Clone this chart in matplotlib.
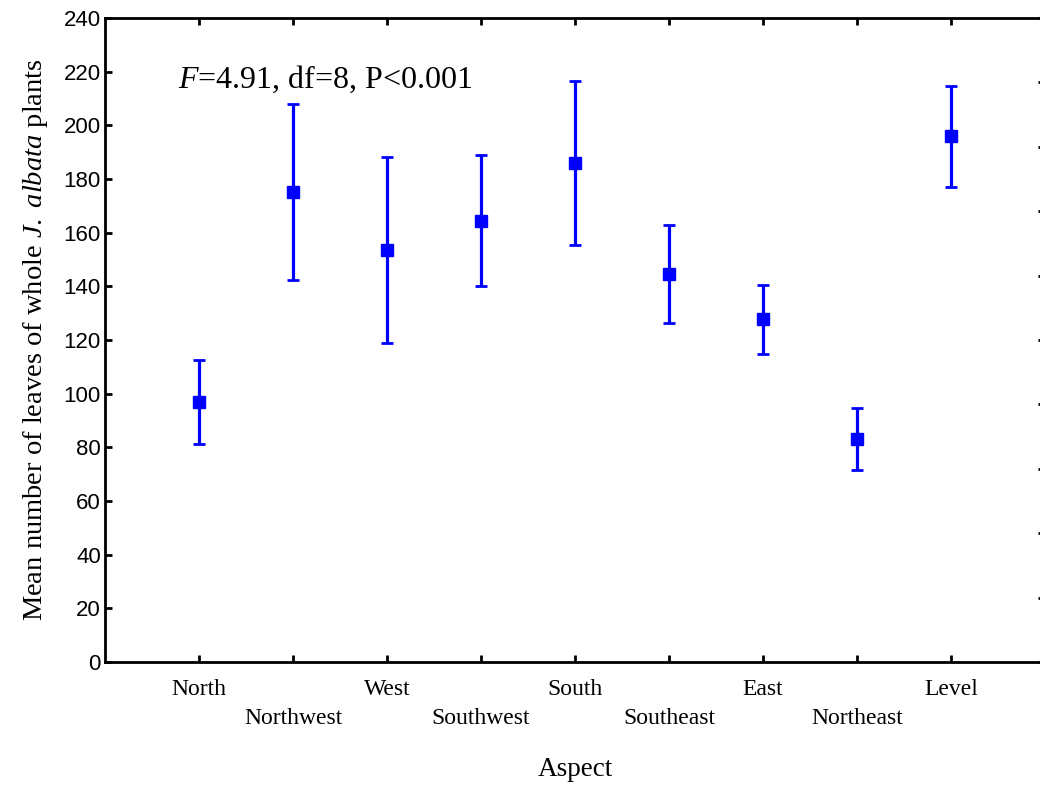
import matplotlib
matplotlib.use("Agg")
import matplotlib.pyplot as plt

# DATOS
# -------------------------
aspects = ["North", "Northwest", "West", "Southwest", "South",
           "Southeast", "East", "Northeast", "Level"]
means = [96.9, 175.3, 153.5, 164.4, 186.0, 144.6, 127.7, 83.1, 196.0]
errors = [15.8, 32.8, 34.6, 24.4, 30.5, 18.2, 12.9, 11.7, 18.8]
yticks = [0, 20, 40, 60, 80, 100, 120, 140, 160, 180, 200, 220, 240]

plt.rcParams["mathtext.fontset"] = "custom"
plt.rcParams["mathtext.rm"] = "Liberation Serif"
plt.rcParams["mathtext.it"] = "Liberation Serif:italic"

# FIGURA
# -------------------------
fig = plt.figure(figsize=(10.4, 7.85), dpi=100)
# the right spine sits just outside the picture, as in the original
ax = fig.add_axes([105 / 1040, 123 / 785, 940 / 1040, 644 / 785])

x = list(range(1, len(aspects) + 1))
ax.errorbar(x, means, yerr=errors, fmt="s", color="#0000ff",
            markersize=8, elinewidth=2.3, capsize=4, capthick=2)

ax.set_xlim(0, len(aspects) + 1)
ax.set_ylim(0, 240)
ax.set_yticks(yticks)
ax.set_xticks(x)

# alternate labels on two rows
labels = []
for i, a in enumerate(aspects):
    labels.append(a if i % 2 == 0 else "\n" + a)
ax.set_xticklabels(labels, family="Liberation Serif", fontsize=17)
for lab in ax.get_xticklabels():
    lab.set_linespacing(1.55)
for lab in ax.get_yticklabels():
    lab.set_family("Liberation Sans")
    lab.set_fontsize(16)

ax.tick_params(axis="both", direction="in", length=5, width=2,
               top=True, right=False)
ax.tick_params(axis="x", pad=12)
ax.tick_params(axis="y", pad=3)
for s in ax.spines.values():
    s.set_linewidth(2)

# ticks on the right side (10 divisions, no labels)
ax2 = ax.twinx()
ax2.set_ylim(0, 10)
ax2.set_yticks(range(11))
ax2.set_yticklabels([])
ax2.tick_params(axis="y", direction="in", length=5, width=2)

ax.set_xlabel("Aspect", family="Liberation Serif", fontsize=19.5, labelpad=20)
ax.set_ylabel(r"Mean number of leaves of whole $\mathit{J.\ albata}$ plants",
              family="Liberation Serif", fontsize=20.5, labelpad=10)

ax.text(0.78, 214, r"$\mathit{F}$=4.91, df=8, P<0.001",
        family="Liberation Serif", fontsize=23, va="baseline")

fig.savefig("out.png", dpi=100)
